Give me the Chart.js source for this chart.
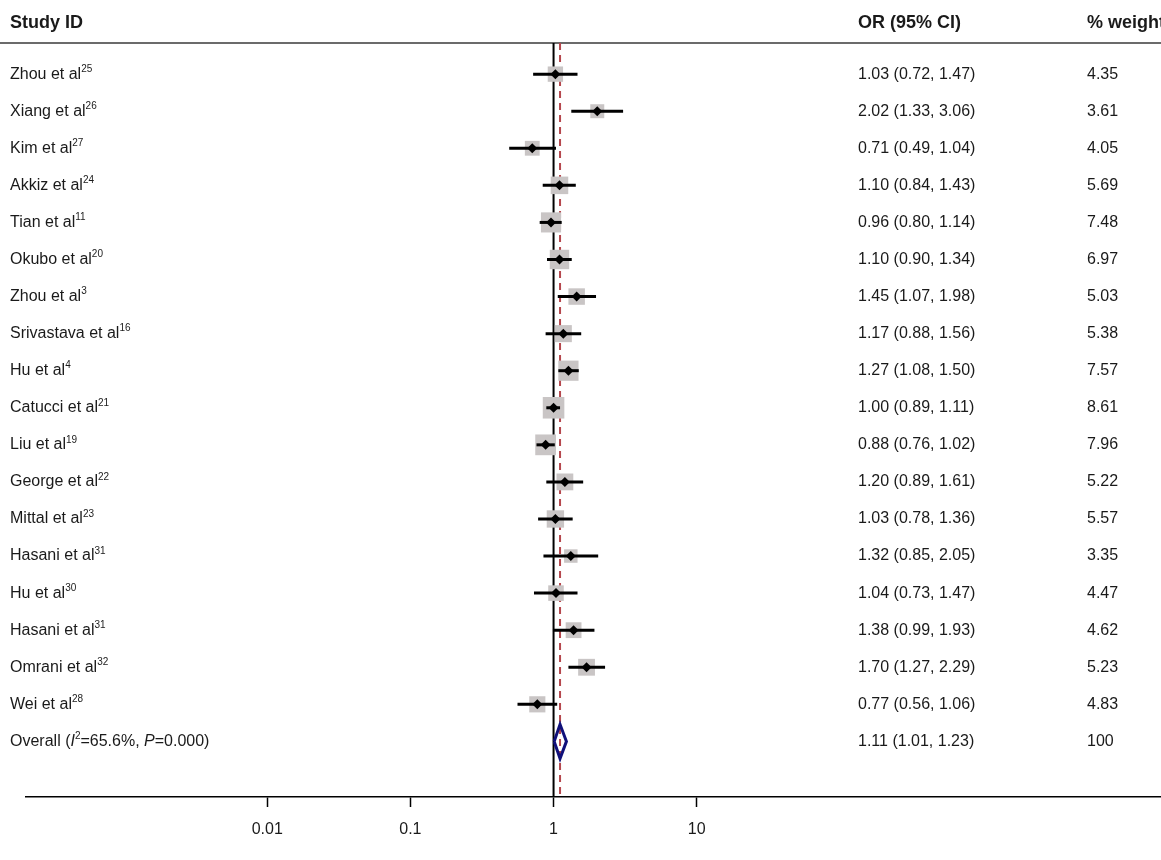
<!DOCTYPE html>
<html><head><meta charset="utf-8">
<script src="https://cdn.jsdelivr.net/npm/chart.js@4/dist/chart.umd.min.js"></script>
<style>html,body{margin:0;padding:0;background:#fff;overflow:hidden;} #wrap{width:1161px;height:860px;}</style>
</head><body><div id="wrap"><canvas id="c" width="1161" height="860"></canvas></div>
<script>
// ---- data ----
const studies = ['Zhou et al','Xiang et al','Kim et al','Akkiz et al','Tian et al','Okubo et al','Zhou et al','Srivastava et al','Hu et al','Catucci et al','Liu et al','George et al','Mittal et al','Hasani et al','Hu et al','Hasani et al','Omrani et al','Wei et al'];
const refs = ['25','26','27','24','11','20','3','16','4','21','19','22','23','31','30','31','32','28'];
const orValues = [1.03,2.02,0.71,1.10,0.96,1.10,1.45,1.17,1.27,1.00,0.88,1.20,1.03,1.32,1.04,1.38,1.70,0.77];
const ciLower = [0.72,1.33,0.49,0.84,0.80,0.90,1.07,0.88,1.08,0.89,0.76,0.89,0.78,0.85,0.73,0.99,1.27,0.56];
const ciUpper = [1.47,3.06,1.04,1.43,1.14,1.34,1.98,1.56,1.50,1.11,1.02,1.61,1.36,2.05,1.47,1.93,2.29,1.06];
const weights = [4.35,3.61,4.05,5.69,7.48,6.97,5.03,5.38,7.57,8.61,7.96,5.22,5.57,3.35,4.47,4.62,5.23,4.83];
const ciText = ['1.03 (0.72, 1.47)','2.02 (1.33, 3.06)','0.71 (0.49, 1.04)','1.10 (0.84, 1.43)','0.96 (0.80, 1.14)','1.10 (0.90, 1.34)','1.45 (1.07, 1.98)','1.17 (0.88, 1.56)','1.27 (1.08, 1.50)','1.00 (0.89, 1.11)','0.88 (0.76, 1.02)','1.20 (0.89, 1.61)','1.03 (0.78, 1.36)','1.32 (0.85, 2.05)','1.04 (0.73, 1.47)','1.38 (0.99, 1.93)','1.70 (1.27, 2.29)','0.77 (0.56, 1.06)'];
const weightText = ['4.35','3.61','4.05','5.69','7.48','6.97','5.03','5.38','7.57','8.61','7.96','5.22','5.57','3.35','4.47','4.62','5.23','4.83'];
const overallOR = 1.11, overallLower = 1.01, overallUpper = 1.23;
const overallCIText = '1.11 (1.01, 1.23)';
const overallWeightText = '100';
const headers = ['Study ID','OR (95% CI)','% weight'];
const tickValues = [0.01, 0.1, 1, 10];
const tickLabels = ['0.01','0.1','1','10'];

// ---- layout / style ----
const FONT = '"Liberation Sans", Arial, Helvetica, sans-serif';
const TEXT = '#1a1a1a';
const colX = [10, 858, 1087];
const yTop = -0.84, yBottom = 19.5;     // header rule and axis, in row units
const xMinExp = -3.685, xMaxExp = 4.243; // log10 span of plot width
const overallRow = studies.length;

const datasets = [];
datasets.push({ label:'null', showLine:true, data:[{x:1,y:yTop},{x:1,y:yBottom}], borderColor:'#000', borderWidth:2, pointRadius:0, order:20 });
datasets.push({ label:'pooled', showLine:true, data:[{x:overallOR,y:yTop},{x:overallOR,y:yBottom}], borderColor:'#b5474d', borderWidth:2, borderDash:[7,5], pointRadius:0, order:19 });
datasets.push({ label:'weights', data: orValues.map((v,i)=>({x:v,y:i})), pointStyle:'rect', pointRadius: weights.map(w=>5.2*Math.sqrt(w)), pointBackgroundColor:'#c9c5c5', pointBorderWidth:0, order:18 });
studies.forEach((s,i)=>{
  datasets.push({ label:'ci'+i, showLine:true, data:[{x:ciLower[i],y:i},{x:ciUpper[i],y:i}], borderColor:'#000', borderWidth:3, pointRadius:0, order:5 });
});
datasets.push({ label:'est', data: orValues.map((v,i)=>({x:v,y:i})), pointStyle:'rectRot', pointRadius:5, pointBackgroundColor:'#000', pointBorderWidth:0, order:1 });
const dh = 0.46;
datasets.push({ label:'overall', showLine:true, data:[{x:overallLower,y:overallRow},{x:overallOR,y:overallRow-dh},{x:overallUpper,y:overallRow},{x:overallOR,y:overallRow+dh},{x:overallLower,y:overallRow}], borderColor:'#10107a', borderWidth:3, borderJoinStyle:'miter', pointRadius:0, tension:0, order:2 });

function drawSeg(ctx, x, y, segs){
  for (const s of segs){
    if (s.k==='sup'){ ctx.font = '10px '+FONT; ctx.fillText(s.t, x, y-5); }
    else if (s.k==='it'){ ctx.font = 'italic 16px '+FONT; ctx.fillText(s.t, x, y); }
    else { ctx.font = '16px '+FONT; ctx.fillText(s.t, x, y); }
    x += ctx.measureText(s.t).width;
  }
}

const textPlugin = {
  id:'forestText',
  beforeDatasetsDraw(chart){
    const ctx = chart.ctx;
    ctx.save();
    ctx.strokeStyle = '#3a3a3a'; ctx.lineWidth = 1.5;
    ctx.beginPath(); ctx.moveTo(0, chart.chartArea.top); ctx.lineTo(chart.width, chart.chartArea.top); ctx.stroke();
    ctx.restore();
  },
  afterDraw(chart){
    const ctx = chart.ctx, ys = chart.scales.y;
    ctx.save();
    ctx.fillStyle = TEXT; ctx.textBaseline = 'middle'; ctx.textAlign = 'left';
    ctx.font = 'bold 18px '+FONT;
    headers.forEach((h,j)=> ctx.fillText(h, colX[j], 23));
    studies.forEach((s,i)=>{
      const y = ys.getPixelForValue(i);
      drawSeg(ctx, colX[0], y, [{t:s},{t:refs[i],k:'sup'}]);
      ctx.font = '16px '+FONT;
      ctx.fillText(ciText[i], colX[1], y);
      ctx.fillText(weightText[i], colX[2], y);
    });
    const yo = ys.getPixelForValue(overallRow);
    drawSeg(ctx, colX[0], yo, [{t:'Overall ('},{t:'I',k:'it'},{t:'2',k:'sup'},{t:'=65.6%, '},{t:'P',k:'it'},{t:'=0.000)'}]);
    ctx.font = '16px '+FONT;
    ctx.fillText(overallCIText, colX[1], yo);
    ctx.fillText(overallWeightText, colX[2], yo);
    ctx.restore();
  }
};

new Chart(document.getElementById('c'), {
  type:'scatter',
  data:{ datasets },
  plugins:[textPlugin],
  options:{
    responsive:false, animation:false, devicePixelRatio:1,
    layout:{ autoPadding:false, padding:{ top:43, left:26, right:0, bottom:0 } },
    plugins:{ legend:{display:false}, tooltip:{enabled:false} },
    scales:{
      x:{ type:'logarithmic', bounds:'data', min:Math.pow(10,xMinExp), max:Math.pow(10,xMaxExp),
        afterBuildTicks: s => { s.ticks = tickValues.map(v=>({value:v})); },
        afterFit: s => { s.height = 63; s.paddingLeft = 0; s.paddingRight = 0; },
        ticks:{ autoSkip:false, maxRotation:0, padding:13, color:TEXT, font:{size:16, family:FONT}, callback:(v,i)=>tickLabels[i] },
        grid:{ drawOnChartArea:false, drawTicks:true, tickLength:10, tickColor:'#000', tickWidth:1.5 },
        border:{ display:true, color:'#000', width:1.5 }
      },
      y:{ type:'linear', reverse:true, min:yTop, max:yBottom, display:false }
    }
  }
});
</script></body></html>
